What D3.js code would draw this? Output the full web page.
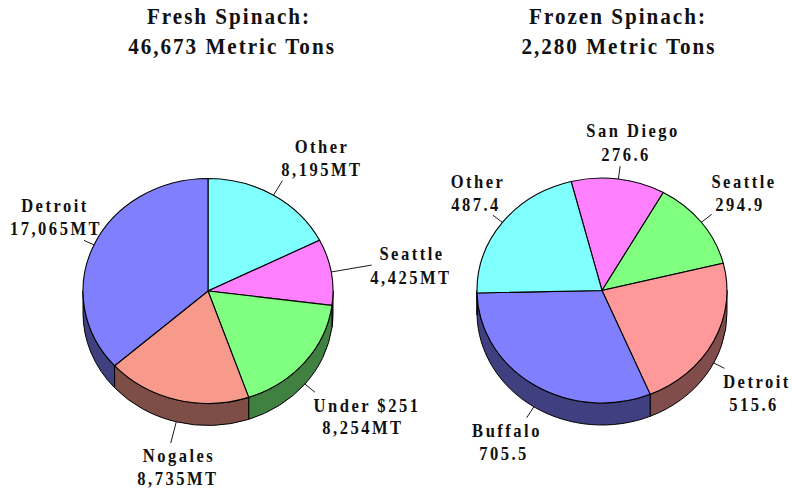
<!DOCTYPE html>
<html>
<head>
<meta charset="utf-8">
<script src="https://cdn.jsdelivr.net/npm/d3@7"></script>
<style>
    html, body { margin: 0; padding: 0; background: #fff; }
    svg { display: block; }
    text { font-family: "Liberation Serif", serif; font-weight: bold; fill: #111; text-anchor: middle; }
</style>
</head>
<body>
<div id="chart"></div>
<script>
// data, clockwise from the start of each pie
const fresh_names = ['Other', 'Seattle', 'Under $251', 'Nogales', 'Detroit'];
const fresh_values = [8195, 4425, 8254, 8735, 17065];
const fresh_value_labels = ['8,195MT', '4,425MT', '8,254MT', '8,735MT', '17,065MT'];

const frozen_names = ['San Diego', 'Seattle', 'Detroit', 'Buffalo', 'Other'];
const frozen_values = [276.6, 294.9, 515.6, 705.5, 487.4];
const frozen_value_labels = ['276.6', '294.9', '515.6', '705.5', '487.4'];

// layout
const fresh_colors = ['#80ffff', '#ff80ff', '#80ff80', '#f79a8c', '#8080ff'];
const fresh_sides = ['#408080', '#804080', '#408040', '#7d4d46', '#404080'];
const frozen_colors = ['#ff80ff', '#80ff80', '#ff9999', '#8080ff', '#80ffff'];
const frozen_sides = ['#804080', '#408040', '#804c4c', '#404080', '#408080'];

const fresh_leaders = [17, 41, 13, 22, 11];
const frozen_leaders = [13, 13, 12, 13, 12];

// [x line 1, y line 1, x line 2, y line 2]
const fresh_label_pos = [
    [322, 153, 322, 176], [412, 260, 411, 284], [367, 412, 363, 434], [179, 462, 178, 485], [55, 212, 56, 235]
];
const frozen_label_pos = [
    [633, 137, 626, 161], [744, 188, 740, 211], [757, 388, 754, 411], [507, 437, 504, 460], [478, 188, 476, 211]
];

const rx = 125, ry = 112.5, depth = 22;

let svg = d3.select('#chart').append('svg').attr('width', 792).attr('height', 491);

// the original type is a bit taller and narrower than Liberation Serif Bold
function condensed_text(parent, t, x, y, size, spacing, squeeze) {
    parent.append('text')
        .attr('transform', `translate(${x},${y}) scale(${squeeze},1)`)
        .style('font-size', size + 'px')
        .style('letter-spacing', spacing + 'px')
        .text(t);
}

function title(lines, xs) {
    lines.forEach(function (t, i) {
        condensed_text(svg, t, xs[i], 24 + i * 30, 23.5, 2.2, 0.9);
    });
}

function draw_pie(cx, cy, start_deg, names, values, value_labels, colors, sides, leaders, label_pos) {
    let start = start_deg * Math.PI / 180;
    let arcs = d3.pie().sort(null).startAngle(start).endAngle(start + 2 * Math.PI)(values);
    let px = a => cx + rx * Math.sin(a);
    let py = a => cy - ry * Math.cos(a);

    let g = svg.append('g');

    // side wall, only the front half of the ellipse can be seen
    let lo = Math.PI / 2, hi = 3 * Math.PI / 2;
    arcs.forEach(function (d, i) {
        let a0 = Math.max(d.startAngle, lo), a1 = Math.min(d.endAngle, hi);
        if (a1 <= a0) return;
        let large = a1 - a0 > Math.PI ? 1 : 0;
        g.append('path')
            .attr('d', `M${px(a0)},${py(a0)}A${rx},${ry} 0 ${large} 1 ${px(a1)},${py(a1)}` +
                `L${px(a1)},${py(a1) + depth}A${rx},${ry} 0 ${large} 0 ${px(a0)},${py(a0) + depth}Z`)
            .attr('fill', sides[i])
            .attr('stroke', '#000')
            .attr('stroke-width', 1);
    });

    // top, a circular arc squashed to the ellipse
    let arc = d3.arc().innerRadius(0).outerRadius(rx);
    g.append('g')
        .attr('transform', `translate(${cx},${cy}) scale(1,${ry / rx})`)
        .selectAll('path')
        .data(arcs)
        .enter().append('path')
        .attr('d', arc)
        .attr('fill', (d, i) => colors[i])
        .attr('stroke', '#000')
        .attr('stroke-width', 1.1)
        .attr('vector-effect', 'non-scaling-stroke');

    // leader lines and labels
    arcs.forEach(function (d, i) {
        let mid = (d.startAngle + d.endAngle) / 2;
        let front = Math.cos(mid) < 0 ? depth : 0;
        let x0 = px(mid), y0 = py(mid) + front;
        g.append('line')
            .attr('x1', x0).attr('y1', y0)
            .attr('x2', x0 + leaders[i] * Math.sin(mid))
            .attr('y2', y0 - leaders[i] * Math.cos(mid))
            .attr('stroke', '#000')
            .attr('stroke-width', 0.9);

        let p = label_pos[i];
        [names[i], value_labels[i]].forEach(function (t, j) {
            condensed_text(g, t, p[j * 2], p[j * 2 + 1], 18, 2.7, 0.92);
        });
    });
}

title(['Fresh Spinach:', '46,673 Metric Tons'], [229, 232]);
title(['Frozen Spinach:', '2,280 Metric Tons'], [618, 619]);

draw_pie(208, 291, 0, fresh_names, fresh_values, fresh_value_labels, fresh_colors, fresh_sides, fresh_leaders, fresh_label_pos);
draw_pie(602, 290.5, -14.3, frozen_names, frozen_values, frozen_value_labels, frozen_colors, frozen_sides, frozen_leaders, frozen_label_pos);
</script>
</body>
</html>
